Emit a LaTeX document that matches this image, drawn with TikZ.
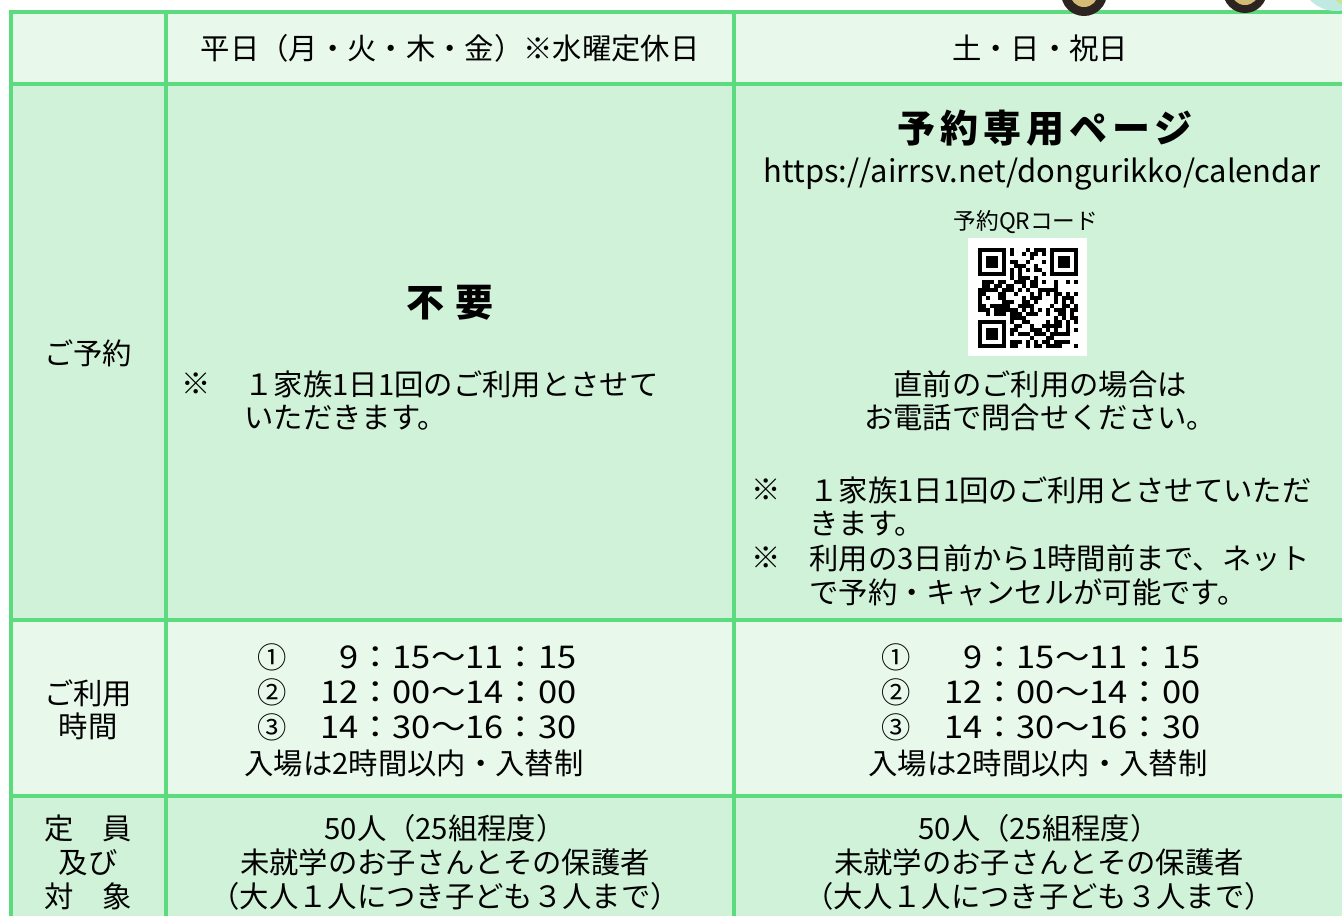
\documentclass[tikz,border=0pt]{standalone}
\usepackage{fontspec}
\setmainfont{Noto Sans CJK JP}
\newfontfamily\titlefont[LetterSpace=13]{Noto Sans CJK JP}
\newfontfamily\slotfont[FakeStretch=1.1]{Noto Sans CJK JP}

\definecolor{gridGreen}{RGB}{92,219,126}
\definecolor{rowLight}{RGB}{232,248,235}
\definecolor{rowDark}{RGB}{208,242,216}
\definecolor{tireDark}{RGB}{45,36,33}
\definecolor{hubGold}{RGB}{212,188,118}
\definecolor{dotCyan}{RGB}{192,233,226}
\definecolor{dotLime}{RGB}{202,229,142}
\definecolor{dotYellow}{RGB}{247,241,163}

\tikzset{every picture/.style={line width=0.75pt}}
\tikzset{
  grid/.style={draw=gridGreen, line width=2.3pt},
  txt/.style={inner sep=0.75pt, align=center, font=\fontsize{22}{25}\selectfont},
  bigtxt/.style={inner sep=0.75pt, font=\titlefont\bfseries\fontsize{28.5}{30}\selectfont},
  smalltxt/.style={inner sep=0.75pt, font=\fontsize{17}{19}\selectfont},
  urltxt/.style={inner sep=0.75pt, font=\fontsize{23.2}{25}\selectfont},
  slottxt/.style={inner sep=0.75pt, font=\slotfont\fontsize{23.5}{25}\selectfont},
}

\begin{document}
\begin{tikzpicture}[x=0.75pt,y=0.75pt,yscale=-1,xscale=1]
\useasboundingbox (0,0) rectangle (1342,915);
\clip (0,0) rectangle (1342,915);

%Shape: Row fills
\fill[rowLight] (11,12) rectangle (1350,84);
\fill[rowDark] (11,84) rectangle (1350,620);
\fill[rowLight] (11,620) rectangle (1350,796);
\fill[rowDark] (11,796) rectangle (1350,930);

%Shape: Grid
\draw[grid] (1350,12) -- (11,12) -- (11,930);
\foreach \y in {84,620,796} \draw[grid] (11,\y) -- (1350,\y);
\foreach \x in {166,734} \draw[grid] (\x,12) -- (\x,930);

%Shape: Wheels and dots above the table
\fill[dotCyan] (1336,-25) circle (36);
\fill[dotLime] (1362,-30) circle (40);
\fill[dotYellow] (1372,-30) circle (34);
\fill[tireDark] (1084,-7) circle (23);
\fill[hubGold] (1084,-7) circle (14);
\fill[tireDark] (1245,-9) circle (22);
\fill[hubGold] (1245,-9) circle (14);

%Shape: QR code
\fill[white] (968,238) rectangle (1087,356);
\pgfmathsetseed{2024}
\foreach \i in {0,...,24}{
  \foreach \j in {0,...,24}{
    \pgfmathrandominteger{\bit}{0}{1}
    \ifnum\bit=1 \fill[black] ({978+4*\i},{248+4*\j}) rectangle +(4,4); \fi
  }
}
\foreach \fx/\fy in {978/248,1050/248,978/320}{
  \fill[white] ({\fx-4},{\fy-4}) rectangle +(36,36);
  \fill[black] (\fx,\fy) rectangle +(28,28);
  \fill[white] ({\fx+4},{\fy+4}) rectangle +(20,20);
  \fill[black] ({\fx+8},{\fy+8}) rectangle +(12,12);
}
\fill[white] (968,238) rectangle (978,356);
\fill[white] (968,238) rectangle (1087,248);

% Text Node
\node[txt] (hdrWeekday) at (450,48) {平日（月・火・木・金）※水曜定休日};
% Text Node
\node[txt] (hdrHoliday) at (1040,48) {土・日・祝日};

% Text Node
\node[txt] (lblReserve) at (88,353) {ご予約};
% Text Node
\node[bigtxt] (notNeeded) at (450,303) {不\hspace{9pt}要};
% Text Node
\node[txt] (markL) at (196,384) {※};
% Text Node
\node[txt, align=left, anchor=west] (noteL) at (243,400.5) {１家族1日1回のご利用とさせて\\いただきます。};

% Text Node
\node[bigtxt] (pageTitle) at (1045,128) {予約専用ページ};
% Text Node
\node[urltxt] (pageUrl) at (1042,174) {https://airrsv.net/dongurikko/calendar};
% Text Node
\node[smalltxt] (qrLabel) at (1026,222) {予約QRコード};
% Text Node
\node[txt] (callNote) at (1040,400.5) {直前のご利用の場合は\\お電話で問合せください。};
% Text Node
\node[txt] (markR1) at (766,490) {※};
% Text Node
\node[txt, align=left, anchor=west] (noteR1) at (808,506.5) {１家族1日1回のご利用とさせていただ\\きます。};
% Text Node
\node[txt] (markR2) at (766,558) {※};
% Text Node
\node[txt, align=left, anchor=west] (noteR2) at (808,575.5) {利用の3日前から1時間前まで、ネット\\で予約・キャンセルが可能です。};

% Text Node
\node[txt] (lblTime) at (88,709.5) {ご利用\\時間};
\foreach \dx/\side in {0/L,624/R}{
  \foreach \n/\num/\slot/\y in {1/①/9：15〜11：15/657,2/②/12：00〜14：00/692,3/③/14：30〜16：30/727}{
    \node[txt] (num\n\side) at ({272+\dx},\y) {\num};
    \node[slottxt, anchor=east] (slot\n\side) at ({578+\dx},\y) {\slot};
  }
  \node[txt] (entry\side) at ({414+\dx},763) {入場は2時間以内・入替制};
}

% Text Node
\node[txt, font=\fontsize{22}{25.5}\selectfont] (lblCap) at (88,862) {定　員\\及び\\対　象};
% Text Node
\node[txt, font=\fontsize{22}{25.5}\selectfont] (capL) at (445,862) {50人（25組程度）\\未就学のお子さんとその保護者\\（大人１人につき子ども３人まで）};
% Text Node
\node[txt, font=\fontsize{22}{25.5}\selectfont] (capR) at (1039,862) {50人（25組程度）\\未就学のお子さんとその保護者\\（大人１人につき子ども３人まで）};

\end{tikzpicture}
\end{document}
